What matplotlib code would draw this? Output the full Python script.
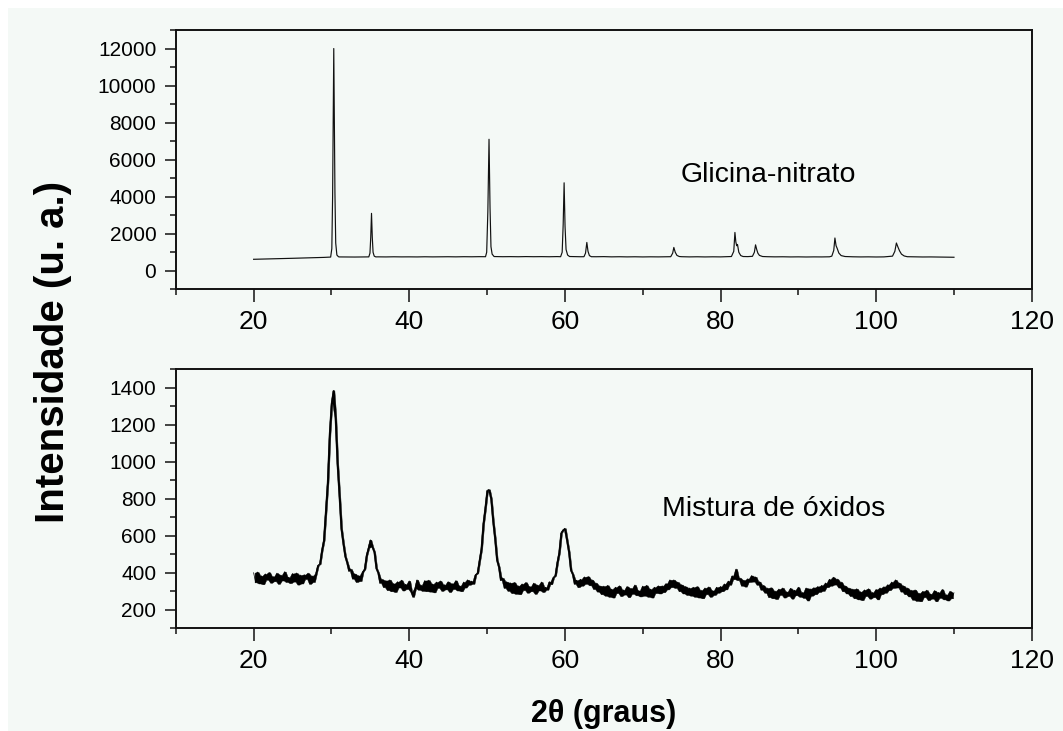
import numpy as np
import matplotlib
matplotlib.use("Agg")
import matplotlib.pyplot as plt
from matplotlib.ticker import MultipleLocator
from matplotlib.patches import Rectangle

plt.rcParams['font.family'] = ['Liberation Sans', 'DejaVu Sans']

# ---------------- data ----------------
# Top panel: Glicina-nitrato (sharp peaks)
gn_2theta = [20, 21, 22, 23, 24, 25, 26, 27, 28, 29,
             29.9, 30.05, 30.15, 30.3, 30.45, 30.55, 30.7, 30.9,
             31, 32, 33, 34,
             34.8, 34.95, 35.05, 35.15, 35.25, 35.35, 35.5, 35.7,
             36, 37, 38, 39, 40, 41, 42, 43, 44, 45, 46, 47, 48, 49,
             49.8, 49.95, 50.1, 50.25, 50.38, 50.5, 50.65, 50.9,
             51, 52, 53, 54, 55, 56, 57, 58, 59,
             59.45, 59.65, 59.78, 59.9, 60.02, 60.15, 60.35, 60.6,
             61, 62,
             62.45, 62.65, 62.82, 62.97, 63.15, 63.4,
             64, 65, 66, 67, 68, 69, 70, 71, 72, 73,
             73.6, 73.85, 74.0, 74.18, 74.4, 74.7,
             75, 76, 77, 78, 79, 80, 81,
             81.4, 81.7, 81.85, 81.97, 82.08, 82.18, 82.35, 82.6, 82.9,
             83.5,
             84.1, 84.35, 84.5, 84.65, 84.8, 85.0, 85.4,
             86, 87, 88, 89, 90, 91, 92, 93, 94,
             94.3, 94.55, 94.7, 94.85, 95.0, 95.2, 95.5, 96,
             97, 98, 99, 100, 101,
             102.1, 102.4, 102.6, 102.8, 103.0, 103.25, 103.6, 104,
             105, 106, 107, 108, 109, 110]
gn_intensity = [620, 632, 640, 655, 662, 674, 685, 700, 712, 722,
                740, 1200, 4000, 12000, 4200, 1500, 850, 760,
                748, 745, 742, 748,
                750, 950, 1800, 3100, 1800, 1000, 790, 750,
                752, 748, 755, 750, 752, 748, 756, 750, 754, 758, 752, 760, 756, 762,
                760, 1000, 3200, 7100, 3400, 1300, 900, 770,
                768, 760, 764, 758, 766, 760, 764, 758, 766,
                760, 1000, 2500, 4750, 2400, 1150, 850, 770,
                765, 758,
                760, 950, 1530, 1050, 820, 760,
                758, 764, 752, 758, 750, 756, 748, 754, 750, 758,
                760, 950, 1260, 1000, 830, 770,
                760, 750, 756, 748, 754, 750, 760,
                770, 1050, 2070, 1550, 1350, 1420, 1000, 820, 770,
                765,
                780, 1000, 1400, 1150, 950, 830, 770,
                760, 752, 756, 748, 752, 745, 750, 748, 755,
                790, 1100, 1770, 1350, 1200, 960, 820, 770,
                755, 748, 752, 745, 750,
                790, 1050, 1500, 1280, 1080, 900, 800, 760,
                750, 745, 748, 740, 738, 730]

# Bottom panel: Mistura de oxidos (broad, noisy peaks), sampled every 0.25 deg from 20 to 110
mo_intensity = [
    # 20.00 - 27.75
    400, 348, 404, 342, 384, 338, 394, 362, 402, 346, 380, 354, 398, 340, 388, 358,
    406, 350, 376, 344, 396, 352, 399, 336, 388, 342, 390, 366, 398, 340, 384, 350,
    # 28.00 - 33.75
    395, 440, 448, 520, 575, 730, 890, 1150, 1315, 1385, 1240, 990,
    820, 640, 560, 490, 455, 410, 420, 368, 395, 350, 385, 355,
    # 34.00 - 36.75
    405, 420, 495, 535, 578, 540, 512, 425, 400, 345, 365, 322,
    # 37.00 - 47.75
    358, 306, 362, 300, 342, 296, 352, 320, 360, 304, 338, 312, 356, 298, 270, 316,
    362, 308, 334, 302, 358, 300, 360, 298, 340, 294, 350, 318, 356, 302, 336, 310,
    352, 296, 342, 312, 358, 304, 330, 300, 350, 320, 362, 335,
    # 48.00 - 52.75
    355, 340, 390, 398, 465, 530, 665, 750, 845, 850,
    800, 680, 585, 470, 432, 360, 372, 318, 352, 302,
    # 53.00 - 58.25
    346, 290, 348, 286, 330, 284, 340, 306, 348, 292, 326,
    300, 344, 286, 334, 304, 350, 296, 322, 308, 352, 338,
    # 58.50 - 61.75
    375, 385, 455, 510, 615, 632, 640, 575, 512, 415, 392, 340, 360, 322,
    # 62.00 - 64.75
    365, 330, 378, 340, 380, 332, 362, 312, 345, 298, 330, 284,
    # 65.00 - 72.25
    328, 276, 332, 270, 312, 266, 322, 290, 330, 274, 308, 282, 326, 268, 316,
    286, 334, 278, 304, 272, 328, 276, 332, 270, 312, 266, 322, 290, 330, 288,
    # 72.50 - 76.25
    330, 295, 342, 310, 362, 322, 362, 318, 350, 300, 336, 288, 326, 280, 318, 276,
    # 76.50 - 80.25
    322, 270, 326, 266, 306, 262, 318, 284, 324, 270, 304, 280, 322, 292, 326, 300,
    # 80.50 - 85.75
    340, 310, 355, 335, 384, 365, 420, 360, 372, 330, 360,
    325, 368, 350, 385, 352, 378, 335, 352, 308, 332, 292,
    # 86.00 - 92.75
    318, 268, 320, 262, 302, 258, 312, 280, 318, 266, 298, 274, 316, 260,
    306, 278, 322, 270, 294, 264, 318, 250, 314, 276, 320, 284, 326, 296,
    # 93.00 - 96.75
    332, 302, 345, 322, 365, 330, 376, 336, 366, 320, 350, 300, 330, 288, 318, 274,
    # 97.00 - 100.75
    312, 262, 314, 256, 298, 252, 308, 274, 314, 260, 294, 268, 310, 256, 318, 284,
    # 101.00 - 104.25
    325, 292, 336, 306, 350, 318, 362, 320, 345, 298, 330, 284, 318, 272,
    # 104.50 - 110.00
    306, 254, 308, 248, 290, 246, 300, 268, 306, 252, 286, 260,
    304, 246, 294, 264, 310, 256, 282, 250, 300, 262, 292,
]
mo_2theta = np.linspace(20, 110, len(mo_intensity))

labels = ["Glicina-nitrato", "Mistura de óxidos"]
x_major = [20, 40, 60, 80, 100, 120]

# ---------------- figure ----------------
W, H = 1063, 731
fig = plt.figure(figsize=(W / 100, H / 100), dpi=100, facecolor='white')
bg = '#f4f9f6'
fig.patches.append(Rectangle((8 / W, 0), 1, 1 - 8 / H, transform=fig.transFigure,
                             facecolor=bg, edgecolor='none', zorder=-10))

left = 175.8 / W
width = (1031.8 - 175.8) / W
hgt = (289.3 - 30) / H
ax1 = fig.add_axes([left, 1 - 289.3 / H, width, hgt])
ax2 = fig.add_axes([left, 1 - 628.3 / H, width, hgt])

ax1.plot(gn_2theta, gn_intensity, color='#111111', lw=0.85)

# noisy trace: dense noise rendered as the band spanned by neighbouring samples
mo_y = np.asarray(mo_intensity, dtype=float)
mid_x = (mo_2theta[:-1] + mo_2theta[1:]) / 2
ax2.fill_between(mid_x, np.minimum(mo_y[:-1], mo_y[1:]), np.maximum(mo_y[:-1], mo_y[1:]),
                 color='#000000', lw=0.3, edgecolor='#000000')
ax2.plot(mo_2theta, mo_y, color='#000000', lw=0.5)

ax1.set_ylim(-1000, 13000)
ax1.yaxis.set_major_locator(MultipleLocator(2000))
ax1.yaxis.set_minor_locator(MultipleLocator(1000))
ax2.set_ylim(100, 1500)
ax2.yaxis.set_major_locator(MultipleLocator(200))
ax2.yaxis.set_minor_locator(MultipleLocator(100))

for ax in (ax1, ax2):
    ax.set_facecolor(bg)
    ax.set_xlim(10, 120)
    ax.set_xticks(x_major)
    ax.xaxis.set_minor_locator(MultipleLocator(10))
    for s in ax.spines.values():
        s.set_linewidth(1.4)
        s.set_color('#111111')
    ax.tick_params(axis='both', which='both', direction='out', top=False, right=False,
                   color='#111111', width=1.1)
    ax.tick_params(axis='x', which='major', length=9, labelsize=19, pad=6)
    ax.tick_params(axis='x', which='minor', length=4.5)
    ax.tick_params(axis='y', which='major', length=8, labelsize=15, pad=6)
    ax.tick_params(axis='y', which='minor', length=4.5)

ax1.text(0.6925, 0.415, labels[0], transform=ax1.transAxes, ha='center',
         va='baseline', fontsize=20.5)
ax2.text(0.698, 0.434, labels[1], transform=ax2.transAxes, ha='center',
         va='baseline', fontsize=20.5)

fig.text(604 / W, 1 - 721.7 / H, "2θ (graus)", ha='center', va='baseline',
         fontsize=22, fontweight='bold')
fig.text(53 / W, 1 - 351.5 / H, "Intensidade (u. a.)", ha='center', va='center',
         rotation=90, fontsize=29, fontweight='bold')

fig.savefig("out.png", dpi=100, facecolor=fig.get_facecolor())
